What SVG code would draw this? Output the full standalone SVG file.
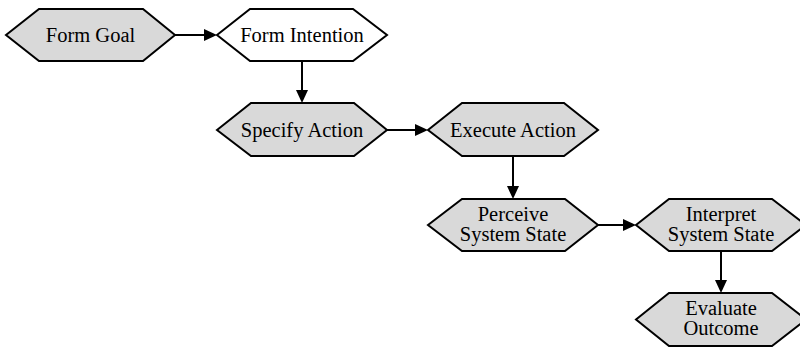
<svg xmlns="http://www.w3.org/2000/svg" width="800" height="350" viewBox="0 0 800 350">
<defs>
<style>
.hex{stroke:#000;stroke-width:2;stroke-linejoin:miter}
.g{fill:#d9d9d9}
.w{fill:#fff}
text{font-family:"Liberation Serif","Times New Roman",serif;font-size:20.5px;fill:#000;text-anchor:middle}
.edge{stroke:#000;stroke-width:2;fill:none}
</style>
<marker id="ah" markerUnits="userSpaceOnUse" markerWidth="14" markerHeight="12" refX="3" refY="6" orient="auto">
<path d="M0,0 L13,6 L0,12 z" fill="#000"/>
</marker>
</defs>
<rect width="800" height="350" fill="#fff"/>
<g id="connectors">
<line class="edge" x1="175" y1="35" x2="207" y2="35" marker-end="url(#ah)"/>
<line class="edge" x1="302" y1="61" x2="302" y2="93" marker-end="url(#ah)"/>
<line class="edge" x1="387" y1="130" x2="418" y2="130" marker-end="url(#ah)"/>
<line class="edge" x1="513" y1="156" x2="513" y2="189" marker-end="url(#ah)"/>
<line class="edge" x1="598" y1="225" x2="626" y2="225" marker-end="url(#ah)"/>
<line class="edge" x1="721" y1="251" x2="721" y2="283" marker-end="url(#ah)"/>
</g>
<g id="form-goal">
<polygon class="hex g" points="6,35 39,9 143,9 175,35 143,61 39,61"/>
<text x="90.5" y="42">Form Goal</text>
</g>
<g id="form-intention">
<polygon class="hex w" points="217,35 250,9 353,9 387,35 353,61 250,61"/>
<text x="302" y="42">Form Intention</text>
</g>
<g id="specify-action">
<polygon class="hex g" points="217,130 251,103 354,103 387,130 354,156 251,156"/>
<text x="302" y="137">Specify Action</text>
</g>
<g id="execute-action">
<polygon class="hex g" points="428,130 462,103 564,103 598,130 564,156 462,156"/>
<text x="513" y="137">Execute Action</text>
</g>
<g id="perceive-system-state">
<polygon class="hex g" points="428,225 462,199 565,199 598,225 565,251 462,251"/>
<text x="513" y="221">Perceive</text>
<text x="513" y="241">System State</text>
</g>
<g id="interpret-system-state">
<polygon class="hex g" points="636,225 669,199 772,199 806,225 772,251 669,251"/>
<text x="721" y="221">Interpret</text>
<text x="721" y="241">System State</text>
</g>
<g id="evaluate-outcome">
<polygon class="hex g" points="636,319.5 669,293 772,293 806,319.5 772,346 669,346"/>
<text x="721" y="315">Evaluate</text>
<text x="721" y="335">Outcome</text>
</g>
</svg>
